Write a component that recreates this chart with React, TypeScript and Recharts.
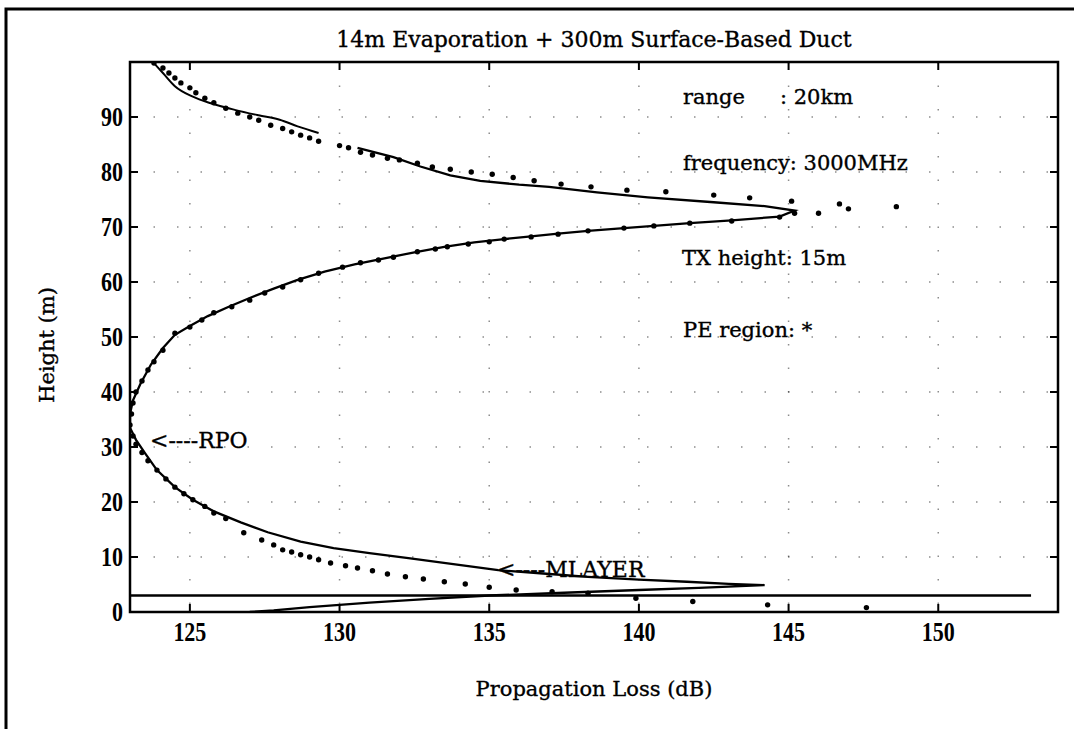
import { ComposedChart, Line, Scatter, XAxis, YAxis, CartesianGrid, ReferenceArea } from 'recharts';

const xTicks = [125, 130, 135, 140, 145, 150];
const yTicks = [0, 10, 20, 30, 40, 50, 60, 70, 80, 90];

// solid curve, short piece at the top
const topLoss = [123.8, 124.1, 124.5, 125.1, 125.7, 126.5, 127.3, 128.0, 128.6, 129.3];
const topHeight = [99.8, 98.0, 95.6, 93.7, 92.5, 91.3, 90.3, 89.5, 88.3, 87.1];

// solid curve, main piece (upper lobe, RPO, lower lobe)
const mainLoss = [
  130.6, 131.8, 132.7, 133.7, 134.7, 136.0, 137.0, 138.6, 140.3, 142.5, 144.2, 145.2,
  144.7, 143.1, 141.7, 140.5, 139.5, 138.3, 137.3, 136.4, 135.5, 134.5, 133.5, 132.5, 131.5, 130.5,
  129.5, 128.6, 127.8, 127.0, 126.3, 125.6, 125.0, 124.5, 124.1, 123.7, 123.35, 123.1, 123.0, 123.0,
  123.2, 123.5, 123.9, 124.5, 125.1, 125.8, 126.7, 127.6, 128.7, 129.8, 131.0, 132.3, 133.8, 135.3,
  136.8, 138.3, 140.0, 141.6, 143.0, 144.2,
  142.0, 140.0, 137.5, 135.0, 133.0, 131.0, 129.0, 127.8, 127.0,
];
const mainHeight = [
  84.4, 82.7, 81.0, 79.4, 78.4, 77.7, 77.3, 76.3, 75.4, 74.5, 73.8, 73.0,
  71.9, 71.2, 70.7, 70.2, 69.8, 69.3, 68.8, 68.3, 67.8, 67.2, 66.4, 65.4, 64.3, 63.2,
  61.9, 60.4, 58.8, 57.1, 55.5, 53.8, 52.0, 50.4, 48.0, 45.0, 41.5, 38.5, 36.0, 33.5,
  31.3, 28.9, 25.8, 22.7, 20.4, 18.3, 16.3, 14.5, 12.8, 11.6, 10.7, 9.8, 8.7, 7.6,
  7.0, 6.4, 5.9, 5.5, 5.1, 4.9,
  4.4, 4.0, 3.5, 3.0, 2.4, 1.7, 0.9, 0.3, 0.0,
];

// PE region points (*)
const peLoss = [
  123.8, 124.1, 124.3, 124.5, 124.7, 125.0, 125.2, 125.5, 125.8, 126.2, 126.6, 127.0, 127.3, 127.7,
  128.1, 128.4, 128.7, 129.0, 129.3, 130.0, 130.3, 130.7, 131.1, 131.6, 132.0, 132.6, 133.1, 133.7,
  134.4, 135.1, 135.8, 136.5, 137.4, 138.4, 139.6, 140.9, 142.5, 143.7, 145.1,
  145.2, 146.0, 146.7, 147.0, 148.6,
  144.7, 143.1, 141.7, 140.5, 139.5, 138.3, 137.3, 136.4, 135.5, 135.0, 134.3, 133.6, 133.2, 132.6,
  131.8, 131.3, 130.7, 130.1, 129.3, 128.7, 128.1, 127.5, 127.0, 126.4, 125.8, 125.4, 125.0, 124.5,
  124.1, 123.8, 123.6, 123.4, 123.2, 123.1, 123.05, 123.0, 123.1, 123.2, 123.4, 123.6, 123.9, 124.2,
  124.5, 124.8, 125.1, 125.5, 125.8, 126.2,
  126.8, 127.4, 127.8, 128.1, 128.4, 128.7, 129.0, 129.3, 129.7, 130.2, 130.6, 131.1, 131.6, 132.2,
  132.8, 133.5, 134.2, 135.0, 135.9, 137.1, 138.3, 139.9, 141.8, 144.3, 147.6,
];
const peHeight = [
  99.8, 98.9, 98.0, 97.1, 96.2, 95.3, 94.4, 93.4, 92.6, 91.6, 90.7, 90.0, 89.4, 88.5,
  87.9, 87.3, 86.7, 86.2, 85.6, 84.8, 84.4, 83.6, 83.1, 82.5, 82.2, 81.6, 80.9, 80.5,
  80.0, 79.6, 79.0, 78.4, 77.8, 77.3, 76.7, 76.4, 75.8, 75.3, 74.7,
  72.5, 72.5, 74.2, 73.3, 73.7,
  71.8, 71.1, 70.7, 70.2, 69.8, 69.3, 68.7, 68.2, 67.8, 67.3, 66.9, 66.4, 66.0, 65.5,
  64.5, 64.0, 63.5, 62.7, 61.6, 60.4, 59.1, 58.0, 56.7, 55.5, 54.4, 53.1, 51.8, 50.7,
  47.6, 45.5, 44.0, 42.0, 40.0, 38.0, 36.0, 34.0, 32.0, 30.5, 29.0, 27.5, 25.8, 24.2,
  22.7, 21.5, 20.4, 19.2, 18.0, 17.0,
  14.4, 13.1, 12.2, 11.3, 10.9, 10.4, 10.0, 9.5, 8.9, 8.4, 8.0, 7.5, 6.9, 6.4,
  6.0, 5.5, 5.1, 4.5, 4.0, 3.7, 3.4, 2.5, 1.9, 1.3, 0.8,
];

// horizontal line near the bottom
const layerLoss = [123, 153.1];
const layerHeight = [3, 3];

const zip = (xs: number[], ys: number[]) => xs.map((x, i) => ({ x, y: ys[i] }));

const W = 1074;
const H = 729;
const PLOT_L = 130;
const PLOT_R = 1058;
const PLOT_T = 62;
const PLOT_B = 612;

const serif = '"DejaVu Serif", serif';
const tickFont = '"Liberation Serif", serif';

const XTick = (props: any) => {
  const { x, payload } = props;
  return (
    <g>
      <line x1={x} x2={x} y1={PLOT_B} y2={PLOT_B - 8} stroke="#000" strokeWidth={2} />
      <line x1={x} x2={x} y1={PLOT_T} y2={PLOT_T + 8} stroke="#000" strokeWidth={2} />
      <text
        transform={`translate(${x},${PLOT_B + 29}) scale(1,1.25)`}
        textAnchor="middle"
        fontFamily={tickFont}
        fontWeight="bold"
        fontSize={22}
        fill="#000"
      >
        {payload.value}
      </text>
    </g>
  );
};

const YTick = (props: any) => {
  const { y, payload } = props;
  return (
    <g>
      <line x1={PLOT_L} x2={PLOT_L + 8} y1={y} y2={y} stroke="#000" strokeWidth={2} />
      <line x1={PLOT_R} x2={PLOT_R - 8} y1={y} y2={y} stroke="#000" strokeWidth={2} />
      <text
        transform={`translate(${PLOT_L - 7},${y + 9}) scale(1,1.25)`}
        textAnchor="end"
        fontFamily={tickFont}
        fontWeight="bold"
        fontSize={22}
        fill="#000"
      >
        {payload.value}
      </text>
    </g>
  );
};

const Dot = (props: any) => <circle cx={props.cx} cy={props.cy} r={2.7} fill="#000" />;

export default function App() {
  return (
    <div style={{ position: 'absolute', left: 0, top: 0, width: W, height: H, background: '#fff' }}>
      <ComposedChart
        width={W}
        height={H}
        margin={{ top: PLOT_T, right: W - PLOT_R, bottom: H - PLOT_B - 40, left: PLOT_L - 60 }}
      >
        <CartesianGrid stroke="#000" strokeOpacity={0.45} strokeDasharray="1.5 22" strokeWidth={1.5} />
        <XAxis
          type="number"
          dataKey="x"
          domain={[123, 154]}
          ticks={xTicks}
          allowDataOverflow
          height={40}
          axisLine={false}
          tickLine={false}
          tick={(p: any) => <XTick {...p} />}
        />
        <YAxis
          type="number"
          dataKey="y"
          domain={[0, 100]}
          ticks={yTicks}
          allowDataOverflow
          width={60}
          axisLine={false}
          tickLine={false}
          tick={(p: any) => <YTick {...p} />}
        />
        <ReferenceArea x1={123} x2={154} y1={0} y2={100} fill="none" stroke="#000" strokeWidth={2.5} />
        <Line data={zip(layerLoss, layerHeight)} dataKey="y" stroke="#000" strokeWidth={2.5} dot={false} isAnimationActive={false} />
        <Line data={zip(topLoss, topHeight)} dataKey="y" type="monotone" stroke="#000" strokeWidth={2} dot={false} isAnimationActive={false} />
        <Line data={zip(mainLoss, mainHeight)} dataKey="y" stroke="#000" strokeWidth={2.3} dot={false} isAnimationActive={false} />
        <Scatter data={zip(peLoss, peHeight)} dataKey="y" fill="#000" shape={<Dot />} isAnimationActive={false} />
      </ComposedChart>

      <svg width={W} height={H} style={{ position: 'absolute', left: 0, top: 0, pointerEvents: 'none' }}>
        <path d={`M 6 ${H} L 6 9 L ${W} 9`} fill="none" stroke="#000" strokeWidth={3} />
        <g fontFamily={serif} fill="#000" stroke="#000" strokeWidth={0.35}>
          <text x={(PLOT_L + PLOT_R) / 2} y={47} textAnchor="middle" fontSize={22}>
            14m Evaporation + 300m Surface-Based Duct
          </text>
          <text x={(PLOT_L + PLOT_R) / 2} y={696} textAnchor="middle" fontSize={21}>
            Propagation Loss (dB)
          </text>
          <text x={54} y={345} transform="rotate(-90 54 345)" textAnchor="middle" fontSize={21}>
            Height (m)
          </text>
          <text x={683} y={104} fontSize={21}>range</text>
          <text x={780} y={104} fontSize={21}>: 20km</text>
          <text x={683} y={170} fontSize={21}>frequency: 3000MHz</text>
          <text x={682} y={265} fontSize={21}>TX height: 15m</text>
          <text x={683} y={337} fontSize={21}>PE region: *</text>
          <text x={150} y={448} fontSize={22}>&lt;----RPO</text>
          <text x={497} y={577} fontSize={22}>&lt;----MLAYER</text>
        </g>
      </svg>
    </div>
  );
}
